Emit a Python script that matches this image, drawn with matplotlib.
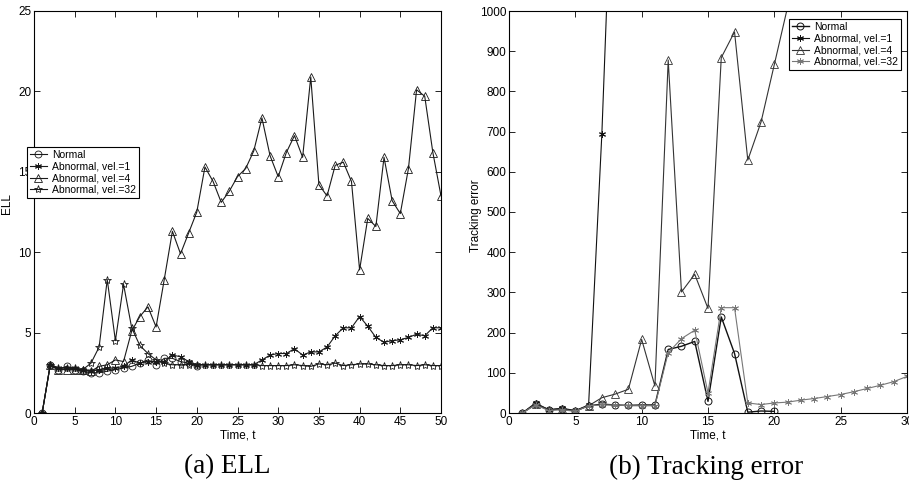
import numpy as np
import matplotlib.pyplot as plt

plt.rcParams['font.family'] = ['Liberation Sans Narrow', 'Liberation Sans', 'DejaVu Sans']

# ---- (a) ELL data ----
t_ell = np.arange(1, 51)
t_ell_normal = np.arange(1, 21)
ell_normal = [0, 3.0, 2.7, 2.9, 2.7, 2.6, 2.5, 2.5, 2.6, 2.7,
              2.8, 2.9, 3.1, 3.3, 3.0, 3.4, 3.4, 3.2, 3.1, 2.9]
ell_vel1 = [0, 3.0, 2.8, 2.8, 2.8, 2.7, 2.6, 2.7, 2.8, 2.8,
            2.9, 3.3, 3.1, 3.2, 3.2, 3.2, 3.6, 3.5, 3.2, 3.0,
            3.0, 3.0, 3.0, 3.0, 3.0, 3.0, 3.0, 3.3, 3.6, 3.7,
            3.7, 4.0, 3.6, 3.8, 3.8, 4.1, 4.8, 5.3, 5.3, 6.0,
            5.4, 4.7, 4.4, 4.5, 4.55, 4.7, 4.9, 4.8, 5.3, 5.3]
ell_vel4 = [0, 3.0, 2.7, 2.7, 2.7, 2.7, 2.6, 2.9, 3.0, 3.3,
            3.2, 5.1, 6.0, 6.6, 5.35, 8.3, 11.3, 9.9, 11.2, 12.5,
            15.3, 14.4, 13.1, 13.8, 14.7, 15.2, 16.3, 18.35, 16.0, 14.7,
            16.2, 17.25, 15.9, 20.9, 14.2, 13.5, 15.4, 15.6, 14.4, 8.9,
            12.1, 11.6, 15.9, 13.2, 12.4, 15.2, 20.1, 19.7, 16.2, 13.5]
ell_vel32 = [0, 3.0, 2.8, 2.8, 2.8, 2.7, 3.1, 4.1, 8.3, 4.5,
             8.0, 5.3, 4.2, 3.7, 3.3, 3.1, 3.0, 3.0, 3.0, 3.0,
             3.0, 3.0, 3.0, 3.0, 3.0, 3.0, 3.0, 2.95, 2.95, 2.95,
             2.95, 3.0, 2.95, 2.9, 3.05, 3.0, 3.1, 2.95, 3.0, 3.05,
             3.05, 3.0, 2.95, 2.95, 3.0, 3.0, 2.95, 3.0, 2.95, 2.95]

# ---- (b) Tracking error data ----
t_te_normal = np.arange(1, 21)
te_normal = [0, 22, 8, 10, 5, 18, 22, 20, 19, 20,
             20, 158, 166, 178, 29, 239, 148, 2, 5, 4]
t_te_vel1 = np.arange(1, 9)
te_vel1 = [0, 25, 8, 12, 6, 20, 695, 1570]
t_te_vel4 = np.arange(1, 22)
te_vel4 = [0, 22, 8, 10, 5, 18, 38, 47, 59, 183,
           67, 878, 301, 345, 260, 884, 948, 629, 724, 867, 1010]
t_te_vel32 = np.arange(1, 31)
te_vel32 = [0, 20, 6, 8, 4, 18, 20, 20, 18, 18,
            18, 150, 185, 206, 50, 262, 262, 25, 21, 25,
            27, 32, 36, 41, 46, 53, 61, 69, 78, 91]

labels = ['Normal', 'Abnormal, vel.=1', 'Abnormal, vel.=4', 'Abnormal, vel.=32']
asterisk = (6, 2, 0)

fig = plt.figure(figsize=(9.09, 4.82), dpi=100)
ax1 = fig.add_axes([34/909, 1 - 413/482, 407/909, 402/482])
ax2 = fig.add_axes([509/909, 1 - 413/482, 398/909, 402/482])

lw = 0.8
ms = 5
dark = '#1a1a1a'

ax1.plot(t_ell_normal, ell_normal, color=dark, lw=lw, marker='o', ms=ms, mfc='none', mew=0.6, label=labels[0])
ax1.plot(t_ell, ell_vel1, color=dark, lw=lw, marker=asterisk, ms=ms, mew=0.7, label=labels[1])
ax1.plot(t_ell, ell_vel4, color=dark, lw=lw, marker='^', ms=ms + 1, mfc='none', mew=0.6, label=labels[2])
ax1.plot(t_ell, ell_vel32, color=dark, lw=lw, marker='*', ms=ms + 1, mfc='none', mew=0.6, label=labels[3])

ax2.plot(t_te_normal, te_normal, color='#111111', lw=1.0, marker='o', ms=ms, mfc='none', mew=0.7, label=labels[0])
ax2.plot(t_te_vel1, te_vel1, color='#111111', lw=lw, marker=asterisk, ms=ms, mew=0.7, label=labels[1])
ax2.plot(t_te_vel4, te_vel4, color='#333333', lw=lw, marker='^', ms=ms + 1, mfc='none', mew=0.6, label=labels[2])
ax2.plot(t_te_vel32, te_vel32, color='#777777', lw=lw, marker=asterisk, ms=ms, mew=0.6, label=labels[3])

ax1.set_xlim(0, 50)
ax1.set_ylim(0, 25)
ax1.set_xticks(np.arange(0, 51, 5))
ax1.set_yticks(np.arange(0, 26, 5))
ax2.set_xlim(0, 30)
ax2.set_ylim(0, 1000)
ax2.set_xticks(np.arange(0, 31, 5))
ax2.set_yticks(np.arange(0, 1001, 100))

for ax in (ax1, ax2):
    ax.tick_params(direction='in', top=True, right=True, length=4, width=0.6,
                   labelsize=8.5, pad=2)
    for s in ax.spines.values():
        s.set_linewidth(0.8)
    ax.set_xlabel('Time, t', fontsize=8.5, labelpad=1)

ax1.set_ylabel('ELL', fontsize=8.5)
ax1.yaxis.set_label_coords(-0.052, 0.52)
ax2.set_ylabel('Tracking error', fontsize=8.5)
ax2.yaxis.set_label_coords(-0.068, 0.49)

leg1 = ax1.legend(loc='upper left', bbox_to_anchor=(27/909, 1 - 147/482),
                  bbox_transform=fig.transFigure, fontsize=7.5, labelspacing=0.15,
                  handlelength=1.6, handletextpad=0.5, borderpad=0.3,
                  borderaxespad=0, fancybox=False, framealpha=1, edgecolor='black')
leg1.get_frame().set_linewidth(0.8)
leg2 = ax2.legend(loc='upper left', bbox_to_anchor=(789/909, 1 - 19/482),
                  bbox_transform=fig.transFigure, fontsize=7.5, labelspacing=0.15,
                  handlelength=1.6, handletextpad=0.5, borderpad=0.3,
                  borderaxespad=0, fancybox=False, framealpha=1, edgecolor='black')
leg2.get_frame().set_linewidth(0.8)

fig.text(227/909, 1 - 467/482, '(a) ELL', fontsize=19.5, family='Liberation Serif',
         ha='center', va='center')
fig.text(706/909, 1 - 467/482, '(b) Tracking error', fontsize=19.5, family='Liberation Serif',
         ha='center', va='center')

fig.savefig('out.png', dpi=100)
